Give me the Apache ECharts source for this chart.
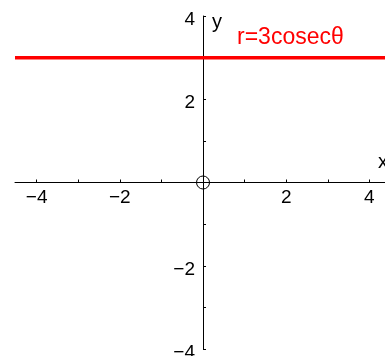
<!DOCTYPE html>
<html>
<head>
<meta charset="utf-8">
<style>
  html, body { margin: 0; padding: 0; background: #fff; }
  #chart { width: 385px; height: 356px; }
</style>
<script src="https://cdn.jsdelivr.net/npm/echarts@6/dist/echarts.min.js"></script>
</head>
<body>
<div id="chart"></div>
<script>
// Axis extents (x and y share the same unit length)
const xRange = [-4.52, 4.375];
const yRange = [-4, 4];

// Labelled tick positions and all tick positions
const majorTicks = [-4, -2, 2, 4];
const allTicks = [-4, -3, -2, -1, 1, 2, 3, 4];

// The polar curve r = 3 cosec θ is the horizontal line y = 3
const lineY = 3;
const curveName = 'r=3cosecθ';

// Pole marker
const origin = [0, 0];

const FONT = "'Liberation Sans', Arial, sans-serif";
const fmtNum = v => (v < 0 ? '\u2212' + Math.abs(v) : String(v));

const chart = echarts.init(document.getElementById('chart'), null, { renderer: 'canvas' });

// Tick labels sit next to the axes crossing at the origin
const xLabelPts = majorTicks.map(v => [v, 0]);
const yLabelPts = majorTicks.map(v => [0, v]);

const tickLabelStyle = { color: '#000', fontSize: 19, fontFamily: FONT };

chart.setOption({
  animation: false,
  backgroundColor: '#fff',
  grid: { left: 15, right: 0, top: 16, bottom: 7, containLabel: false, outerBoundsMode: 'none' },
  xAxis: {
    type: 'value', min: xRange[0], max: xRange[1], position: 'bottom',
    axisLine: { show: true, onZero: true, lineStyle: { color: '#000', width: 1 } },
    splitLine: { show: false },
    axisTick: { show: true, inside: true, length: 3, customValues: allTicks, lineStyle: { color: '#000' } },
    axisLabel: { show: false }
  },
  yAxis: {
    type: 'value', min: yRange[0], max: yRange[1], position: 'left',
    axisLine: { show: true, onZero: true, lineStyle: { color: '#000', width: 1 } },
    splitLine: { show: false },
    axisTick: { show: true, inside: true, length: 3, customValues: allTicks, lineStyle: { color: '#000' } },
    axisLabel: { show: false }
  },
  series: [
    {
      name: curveName,
      type: 'line',
      data: [[xRange[0], lineY], [xRange[1], lineY]],
      showSymbol: false,
      lineStyle: { color: '#ff0000', width: 3.5 },
      silent: true
    },
    {
      type: 'scatter',
      data: [origin],
      symbol: 'circle',
      symbolSize: 13,
      itemStyle: { color: 'rgba(0,0,0,0)', borderColor: '#000', borderWidth: 1, opacity: 1 },
      silent: true,
      z: 5
    },
    {
      type: 'scatter',
      data: xLabelPts,
      symbolSize: 0,
      silent: true,
      itemStyle: { opacity: 1 },
      label: Object.assign({ show: true, position: 'bottom', distance: 6, formatter: p => fmtNum(p.value[0]) }, tickLabelStyle)
    },
    {
      type: 'scatter',
      data: yLabelPts,
      symbolSize: 0,
      silent: true,
      itemStyle: { opacity: 1 },
      label: Object.assign({ show: true, position: 'left', distance: 9, offset: [1, 4], formatter: p => fmtNum(p.value[1]) }, tickLabelStyle)
    }
  ],
  graphic: [
    { type: 'text', left: 237, top: 26, style: { text: curveName, fill: '#ff0000', font: '23px ' + FONT } },
    { type: 'text', left: 212, top: 12, style: { text: 'y', fill: '#000', font: '20px ' + FONT } },
    { type: 'text', left: 378, top: 152, style: { text: 'x', fill: '#000', font: '20px ' + FONT } }
  ]
});
</script>
</body>
</html>
